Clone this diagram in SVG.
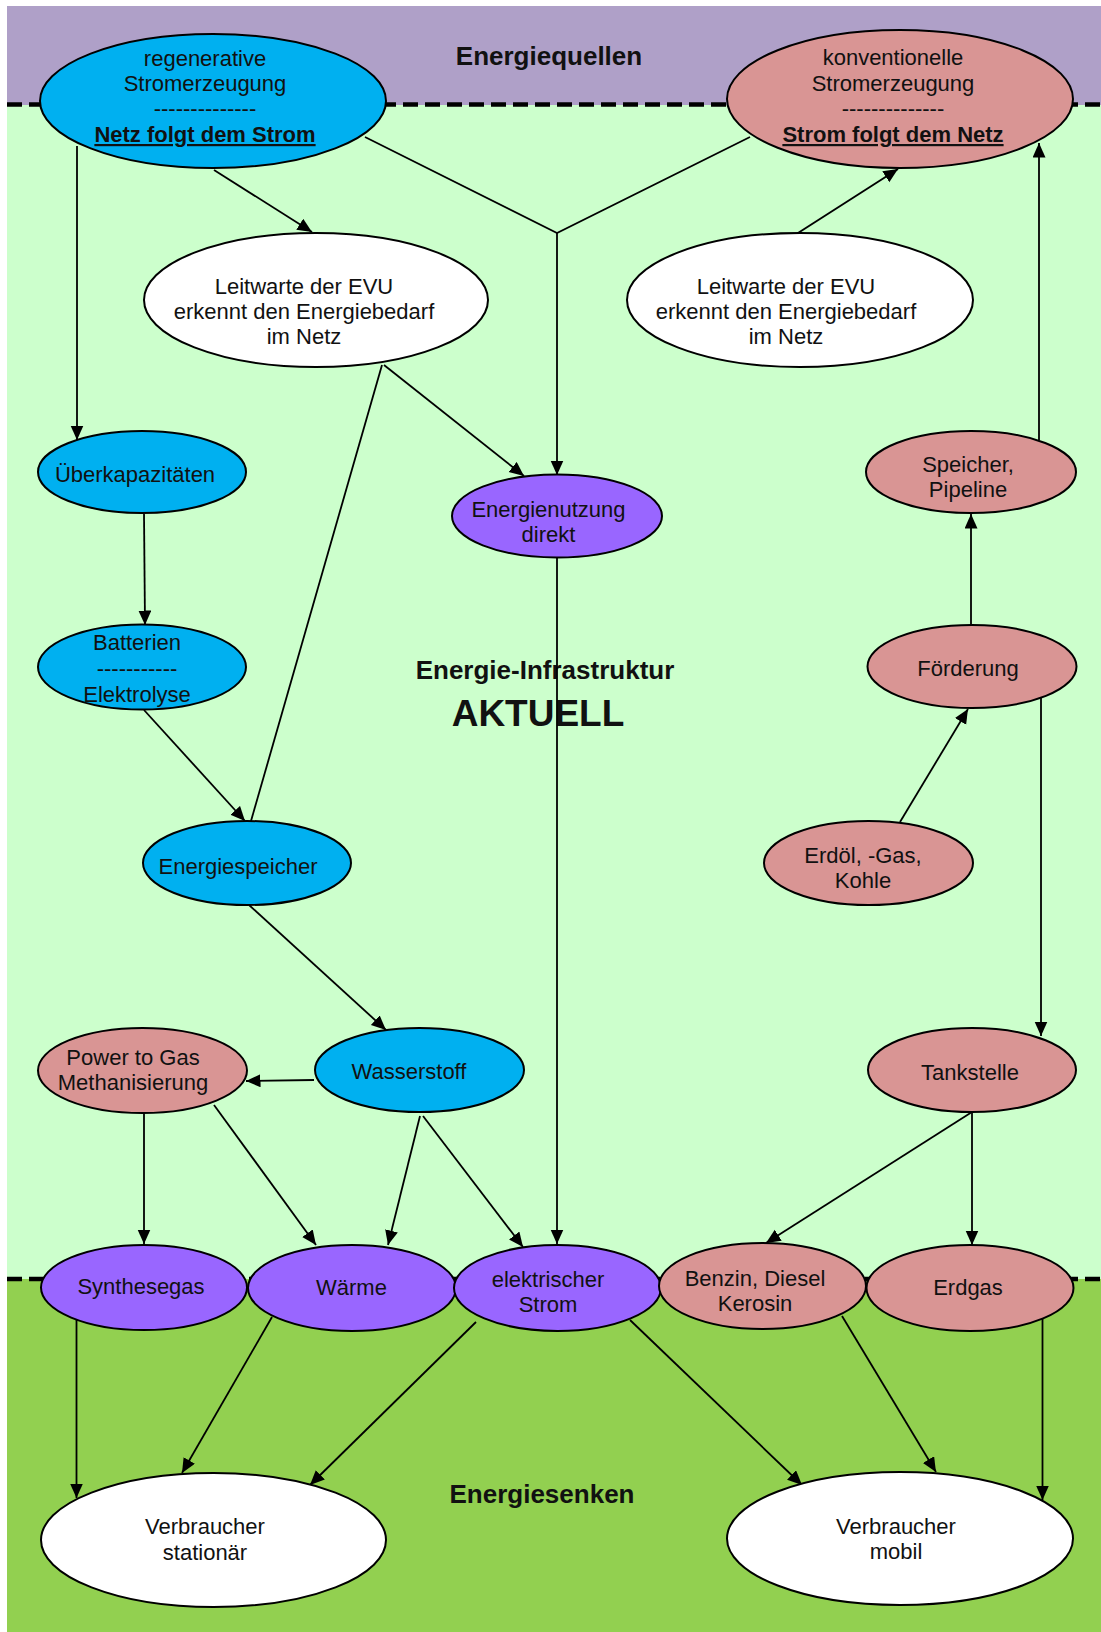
<svg xmlns="http://www.w3.org/2000/svg" width="1101" height="1632" viewBox="0 0 1101 1632">
<defs>
<style>
.n{stroke:#000;stroke-width:2}
.blue{fill:#00B0F0}
.rose{fill:#D99594}
.lila{fill:#9966FF}
.white{fill:#FFFFFF}
text{font-family:"Liberation Sans",Arial,Helvetica,sans-serif;fill:#111;text-anchor:middle}
.t{font-size:22px}
.b{font-size:22px;font-weight:bold;text-decoration:underline}
.h{font-size:26px;font-weight:bold}
.hh{font-size:37px;font-weight:bold}
.c line,.c polyline{stroke:#000;stroke-width:1.8;fill:none}
.a{marker-end:url(#arr)}
.dash{stroke:#000;stroke-width:4.5;stroke-dasharray:15 7}
</style>
<marker id="arr" markerUnits="userSpaceOnUse" markerWidth="16" markerHeight="14" refX="14.5" refY="6.5" orient="auto">
<path d="M0,0 L14.5,6.5 L0,13 Z" fill="#000"/>
</marker>
</defs>
<rect x="0" y="0" width="1101" height="1632" fill="#fff"/>
<rect x="7" y="6" width="1094" height="99" fill="#AFA0C8"/>
<rect x="7" y="105" width="1094" height="1174" fill="#CCFFCC"/>
<rect x="7" y="1279" width="1094" height="353" fill="#92D050"/>
<line class="dash" x1="7" y1="104.5" x2="1101" y2="104.5"/>
<line class="dash" x1="7" y1="1279" x2="1101" y2="1279"/>
<text class="h" x="549" y="65">Energiequellen</text>
<text class="h" x="545" y="679">Energie-Infrastruktur</text>
<text class="hh" x="538" y="726">AKTUELL</text>
<text class="h" x="542" y="1503">Energiesenken</text>

<g id="connectors" class="c">
<line class="a" x1="214" y1="170" x2="312" y2="232"/>
<polyline points="365,137 557,233 750,137"/>
<line class="a" x1="557" y1="233" x2="557" y2="475"/>
<line class="a" x1="77" y1="146" x2="77" y2="440"/>
<line class="a" x1="384" y1="365" x2="524" y2="476"/>
<line x1="382" y1="365" x2="251" y2="821"/>
<line class="a" x1="144" y1="514" x2="145" y2="625"/>
<line class="a" x1="144" y1="710" x2="245" y2="821"/>
<line class="a" x1="249" y1="905" x2="386" y2="1030"/>
<line class="a" x1="314" y1="1080" x2="246" y2="1081"/>
<line class="a" x1="144" y1="1113" x2="144" y2="1244"/>
<line class="a" x1="214" y1="1105" x2="316" y2="1245"/>
<line class="a" x1="420" y1="1116" x2="388" y2="1245"/>
<line class="a" x1="423" y1="1116" x2="523" y2="1247"/>
<line class="a" x1="557" y1="558" x2="557" y2="1244"/>
<line class="a" x1="798" y1="233" x2="898" y2="169"/>
<line class="a" x1="1039" y1="440" x2="1039" y2="143"/>
<line class="a" x1="971" y1="625" x2="971" y2="514"/>
<line class="a" x1="900" y1="822" x2="968" y2="709"/>
<line class="a" x1="1041" y1="698" x2="1041" y2="1036"/>
<line class="a" x1="972" y1="1112" x2="766" y2="1243"/>
<line class="a" x1="972" y1="1112" x2="972" y2="1245"/>
<line class="a" x1="76.5" y1="1317" x2="76.5" y2="1498"/>
<line class="a" x1="272" y1="1317" x2="182" y2="1473"/>
<line class="a" x1="476" y1="1322" x2="310" y2="1485"/>
<line class="a" x1="630" y1="1320" x2="802" y2="1485"/>
<line class="a" x1="842" y1="1316" x2="936" y2="1472"/>
<line class="a" x1="1042.5" y1="1318" x2="1042.5" y2="1500"/>
</g>

<g id="regen"><ellipse class="n blue" cx="213" cy="101" rx="173" ry="67"/>
<text class="t" x="205" y="66">regenerative</text>
<text class="t" x="205" y="91">Stromerzeugung</text>
<text class="t" x="205" y="116">--------------</text>
<text class="b" x="205" y="142">Netz folgt dem Strom</text></g>

<g id="konv"><ellipse class="n rose" cx="900" cy="99" rx="173" ry="69"/>
<text class="t" x="893" y="65">konventionelle</text>
<text class="t" x="893" y="91">Stromerzeugung</text>
<text class="t" x="893" y="116">--------------</text>
<text class="b" x="893" y="142">Strom folgt dem Netz</text></g>

<g id="leit1"><ellipse class="n white" cx="316" cy="300" rx="172" ry="67"/>
<text class="t" x="304" y="294">Leitwarte der EVU</text>
<text class="t" x="304" y="319">erkennt den Energiebedarf</text>
<text class="t" x="304" y="344">im Netz</text></g>

<g id="leit2"><ellipse class="n white" cx="800" cy="300" rx="173" ry="67"/>
<text class="t" x="786" y="294">Leitwarte der EVU</text>
<text class="t" x="786" y="319">erkennt den Energiebedarf</text>
<text class="t" x="786" y="344">im Netz</text></g>

<g id="ueber"><ellipse class="n blue" cx="142" cy="472" rx="104" ry="41"/>
<text class="t" x="135" y="482">Überkapazitäten</text></g>

<g id="direkt"><ellipse class="n lila" cx="557" cy="516" rx="105" ry="41.5"/>
<text class="t" x="548.5" y="517">Energienutzung</text>
<text class="t" x="548.5" y="542">direkt</text></g>

<g id="speicherpipe"><ellipse class="n rose" cx="971" cy="472" rx="105" ry="41"/>
<text class="t" x="968" y="472">Speicher,</text>
<text class="t" x="968" y="497">Pipeline</text></g>

<g id="batterien"><ellipse class="n blue" cx="142" cy="667" rx="104" ry="42.5"/>
<text class="t" x="137" y="650">Batterien</text>
<text class="t" x="137" y="676">-----------</text>
<text class="t" x="137" y="702">Elektrolyse</text></g>

<g id="foerderung"><ellipse class="n rose" cx="972" cy="666.5" rx="104.5" ry="41.5"/>
<text class="t" x="968" y="676">Förderung</text></g>

<g id="energiespeicher"><ellipse class="n blue" cx="247" cy="863" rx="104" ry="42"/>
<text class="t" x="238" y="874">Energiespeicher</text></g>

<g id="erdoel"><ellipse class="n rose" cx="868.5" cy="863" rx="104.5" ry="42"/>
<text class="t" x="863" y="863">Erdöl, -Gas,</text>
<text class="t" x="863" y="888">Kohle</text></g>

<g id="p2g"><ellipse class="n rose" cx="142.5" cy="1070.5" rx="104.5" ry="42.5"/>
<text class="t" x="133" y="1065">Power to Gas</text>
<text class="t" x="133" y="1090">Methanisierung</text></g>

<g id="wasserstoff"><ellipse class="n blue" cx="419.5" cy="1070" rx="104.5" ry="42"/>
<text class="t" x="409" y="1079">Wasserstoff</text></g>

<g id="tankstelle"><ellipse class="n rose" cx="972" cy="1070" rx="104" ry="42"/>
<text class="t" x="970" y="1080">Tankstelle</text></g>

<g id="synthesegas"><ellipse class="n lila" cx="144" cy="1287.5" rx="103" ry="42.5"/>
<text class="t" x="141" y="1294">Synthesegas</text></g>

<g id="waerme"><ellipse class="n lila" cx="352" cy="1288" rx="104" ry="43"/>
<text class="t" x="351.5" y="1295">Wärme</text></g>

<g id="strom"><ellipse class="n lila" cx="557.5" cy="1288" rx="103.5" ry="43"/>
<text class="t" x="548" y="1287">elektrischer</text>
<text class="t" x="548" y="1312">Strom</text></g>

<g id="benzin"><ellipse class="n rose" cx="762.5" cy="1286" rx="103.5" ry="43"/>
<text class="t" x="755" y="1286">Benzin, Diesel</text>
<text class="t" x="755" y="1311">Kerosin</text></g>

<g id="erdgas"><ellipse class="n rose" cx="970" cy="1288" rx="103.5" ry="43"/>
<text class="t" x="968" y="1295">Erdgas</text></g>

<g id="stationaer"><ellipse class="n white" cx="213.5" cy="1540" rx="172.5" ry="67"/>
<text class="t" x="205" y="1534">Verbraucher</text>
<text class="t" x="205" y="1560">stationär</text></g>

<g id="mobil"><ellipse class="n white" cx="900" cy="1538.5" rx="173" ry="66.5"/>
<text class="t" x="896" y="1534">Verbraucher</text>
<text class="t" x="896" y="1559">mobil</text></g>
</svg>
